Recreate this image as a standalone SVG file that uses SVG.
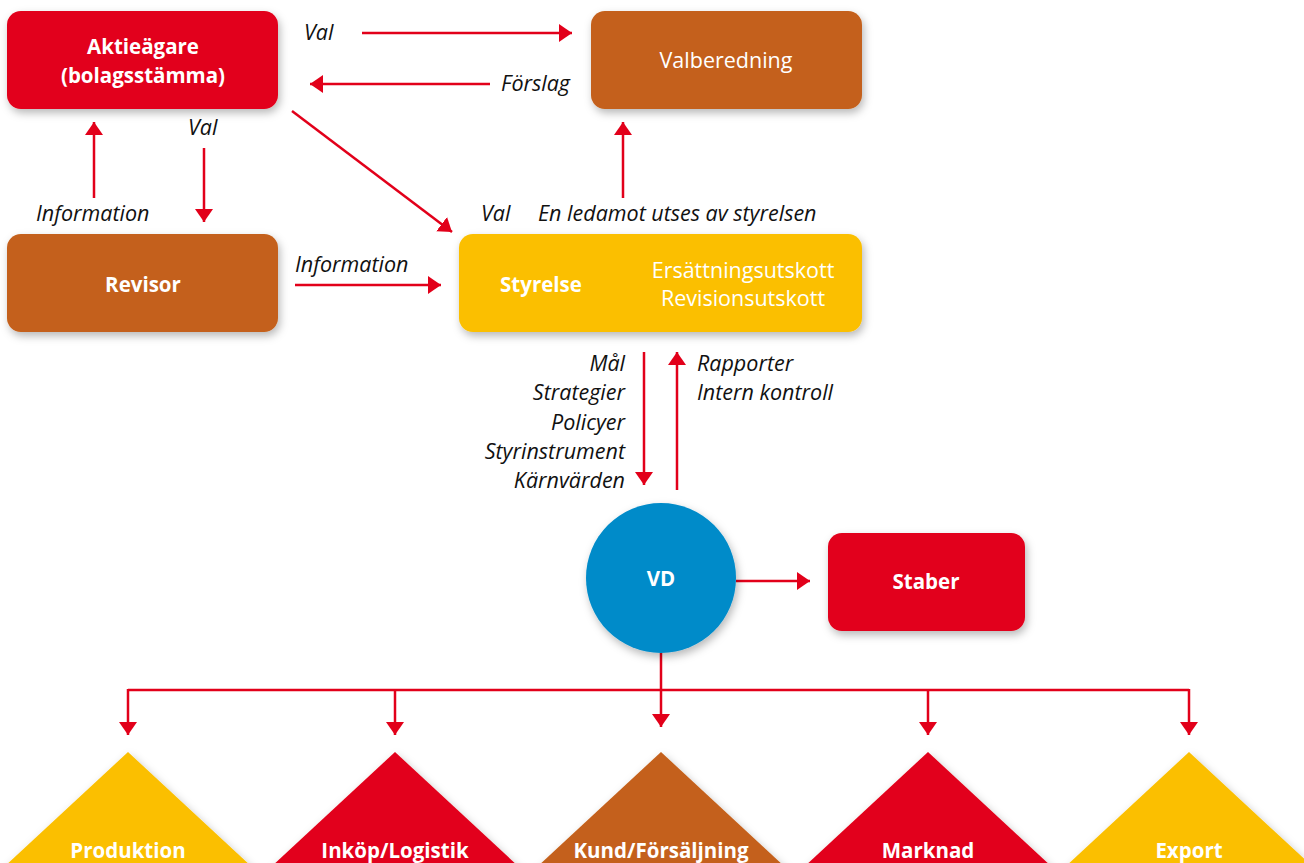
<svg xmlns="http://www.w3.org/2000/svg" width="1304" height="863" viewBox="0 0 1304 863">
<defs>
<filter id="sh" x="-20%" y="-20%" width="140%" height="150%">
<feDropShadow dx="2" dy="4" stdDeviation="4" flood-color="#000" flood-opacity="0.28"/>
</filter>
<marker id="ah" markerUnits="userSpaceOnUse" markerWidth="14" markerHeight="18" refX="13" refY="9" orient="auto">
<path d="M0,0 L13,9 L0,18 z" fill="#E2001A"/>
</marker>
</defs>
<style>
.red{fill:#E2001A}.brown{fill:#C4601A}.yellow{fill:#FBBF00}.blue{fill:#008BC9}
.node{filter:url(#sh)}
.b{font-family:"Open Sans","Noto Sans",sans-serif;font-weight:bold;font-size:20.5px;fill:#fff;text-anchor:middle}
.r{font-family:"Open Sans","Noto Sans",sans-serif;font-size:21.5px;fill:#fff;text-anchor:middle}
.i{font-family:"Open Sans","Noto Sans",sans-serif;font-style:italic;font-size:21.5px;fill:#111}
.c line,.c path{stroke:#E2001A;stroke-width:2.5;fill:none}
</style>
<g id="connectors" class="c">
<line x1="362" y1="33" x2="572" y2="33" marker-end="url(#ah)"/>
<line x1="490" y1="84" x2="310" y2="84" marker-end="url(#ah)"/>
<line x1="94" y1="198" x2="94" y2="122" marker-end="url(#ah)"/>
<line x1="204" y1="148" x2="204" y2="222" marker-end="url(#ah)"/>
<line x1="292" y1="111" x2="452" y2="232" marker-end="url(#ah)"/>
<line x1="295" y1="285" x2="441" y2="285" marker-end="url(#ah)"/>
<line x1="623" y1="198" x2="623" y2="122" marker-end="url(#ah)"/>
<line x1="644" y1="352" x2="644" y2="485" marker-end="url(#ah)"/>
<line x1="677" y1="490" x2="677" y2="352" marker-end="url(#ah)"/>
<line x1="736" y1="581" x2="810" y2="581" marker-end="url(#ah)"/>
<line x1="661" y1="653" x2="661" y2="727" marker-end="url(#ah)"/>
<path d="M128,690 H1189"/>
<line x1="128" y1="689" x2="128" y2="735" marker-end="url(#ah)"/>
<line x1="395" y1="690" x2="395" y2="735" marker-end="url(#ah)"/>
<line x1="928" y1="690" x2="928" y2="735" marker-end="url(#ah)"/>
<line x1="1189" y1="689" x2="1189" y2="735" marker-end="url(#ah)"/>
<text class="i" x="304" y="40">Val</text>
<text class="i" x="570" y="91" text-anchor="end">Förslag</text>
<text class="i" x="188" y="135">Val</text>
<text class="i" x="36" y="221">Information</text>
<text class="i" x="481" y="221">Val</text>
<text class="i" x="538" y="221">En ledamot utses av styrelsen</text>
<text class="i" x="295" y="272">Information</text>
<text class="i" x="625" y="371" text-anchor="end">Mål</text>
<text class="i" x="625" y="400" text-anchor="end">Strategier</text>
<text class="i" x="625" y="430" text-anchor="end">Policyer</text>
<text class="i" x="625" y="459" text-anchor="end">Styrinstrument</text>
<text class="i" x="625" y="488" text-anchor="end">Kärnvärden</text>
<text class="i" x="697" y="371">Rapporter</text>
<text class="i" x="697" y="400">Intern kontroll</text>
</g>
<g id="aktieagare">
<rect class="node red" x="7" y="11" width="271" height="98" rx="14"/>
<text class="b" x="143" y="54">Aktieägare</text>
<text class="b" x="143" y="83">(bolagsstämma)</text>
</g>
<g id="valberedning">
<rect class="node brown" x="591" y="11" width="271" height="98" rx="14"/>
<text class="r" x="726" y="68">Valberedning</text>
</g>
<g id="revisor">
<rect class="node brown" x="7" y="234" width="271" height="98" rx="14"/>
<text class="b" x="143" y="292">Revisor</text>
</g>
<g id="styrelse">
<rect class="node yellow" x="459" y="234" width="403" height="98" rx="14"/>
<text class="b" x="541" y="292">Styrelse</text>
<text class="r" x="743" y="278">Ersättningsutskott</text>
<text class="r" x="743" y="306">Revisionsutskott</text>
</g>
<g id="vd">
<circle class="node blue" cx="661" cy="578" r="75"/>
<text class="b" x="661" y="586">VD</text>
</g>
<g id="staber">
<rect class="node red" x="828" y="533" width="197" height="98" rx="14"/>
<text class="b" x="926" y="589">Staber</text>
</g>
<g id="produktion">
<polygon class="node yellow" points="-10,880 128,752 266,880"/>
<text class="b" x="128" y="858">Produktion</text>
</g>
<g id="inkop">
<polygon class="node red" points="257,880 395,752 533,880"/>
<text class="b" x="395" y="858">Inköp/Logistik</text>
</g>
<g id="kund">
<polygon class="node brown" points="523,880 661,752 799,880"/>
<text class="b" x="661" y="858">Kund/Försäljning</text>
</g>
<g id="marknad">
<polygon class="node red" points="790,880 928,752 1066,880"/>
<text class="b" x="928" y="858">Marknad</text>
</g>
<g id="export">
<polygon class="node yellow" points="1051,880 1189,752 1327,880"/>
<text class="b" x="1189" y="858">Export</text>
</g>
</svg>
